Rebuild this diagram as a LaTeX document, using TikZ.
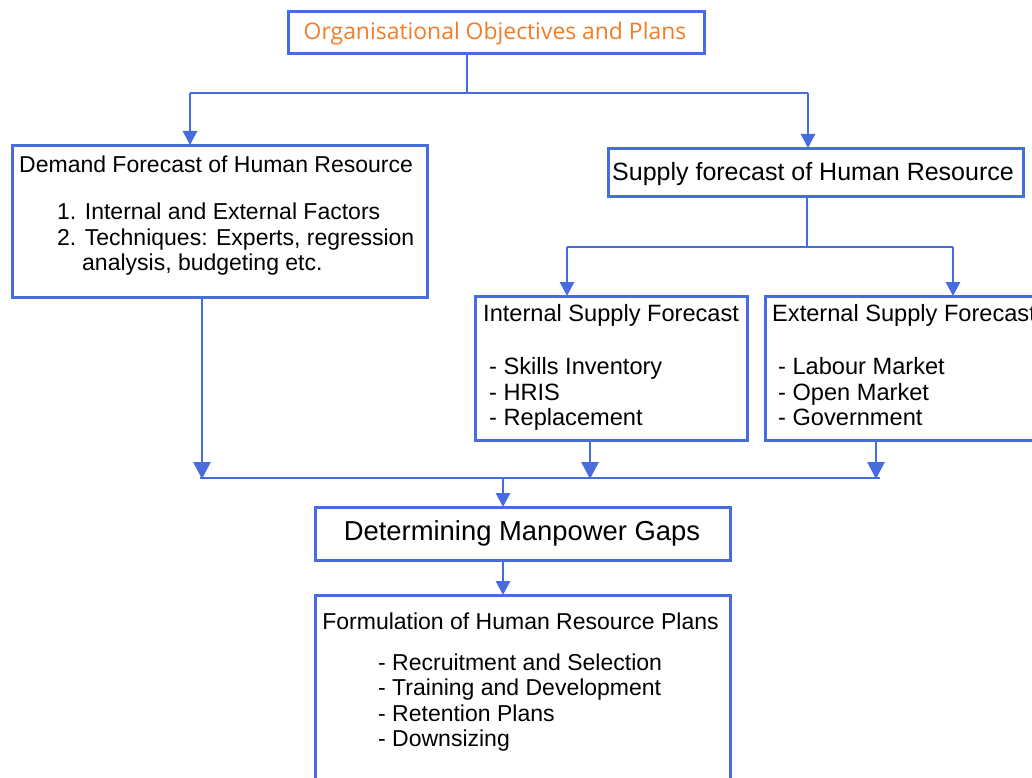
\documentclass[tikz,border=0pt]{standalone}
\usepackage{fontspec}
\setmainfont{Liberation Sans}
\newfontfamily\titlefont{Open Sans}
\usetikzlibrary{arrows.meta}
\definecolor{lineblue}{RGB}{70,108,222}
\definecolor{titleorange}{RGB}{240,125,40}
\tikzset{
  box/.style={draw=lineblue, line width=2.8pt, fill=white, inner sep=0pt, anchor=north west},
  conn/.style={draw=lineblue, line width=2.8pt},
  arr/.style={conn, -{Triangle[width=14pt,length=14pt]}, shorten >=-1pt},
  bigarr/.style={conn, -{Triangle[width=17pt,length=17pt]}, shorten >=-1pt},
  txt/.style={inner sep=0pt, anchor=mid west, yshift=-6pt, font=\fontsize{23}{26}\selectfont},
  subtxt/.style={txt, font=\fontsize{23.6}{26}\selectfont},
}
\begin{document}
\begin{tikzpicture}[x=1pt,y=-1pt]
\path[use as bounding box] (0,0) rectangle (1032,778);
\clip (0,0) rectangle (1032,778);
\fill[white] (0,0) rectangle (1032,778);

% boxes
\node[box, minimum width=416pt, minimum height=42pt] (top) at (287,10) {};
\node[box, minimum width=415pt, minimum height=152pt] (demand) at (11,144) {};
\node[box, minimum width=415pt, minimum height=48pt] (supply) at (607,147) {};
\node[box, minimum width=272pt, minimum height=144pt] (internal) at (474,295) {};
\node[box, minimum width=290pt, minimum height=144pt] (external) at (764,295) {};
\node[box, minimum width=415pt, minimum height=53pt] (gaps) at (314,506) {};
\node[box, minimum width=415pt, minimum height=200pt] (plans) at (314,594) {};

% texts
\node[inner sep=0pt, text=titleorange, yshift=-3pt, font=\titlefont\fontsize{22.9}{25}\selectfont] (toptxt) at (495,31) {Organisational Objectives and Plans};

\node[txt] (dtitle) at (19,164) {Demand Forecast of Human Resource};
\node[txt] (d1) at (57,211) {1. Internal and External Factors};
\node[txt] (d2) at (57,237) {2. Techniques: Experts, regression};
\node[txt] (d3) at (82,262) {analysis, budgeting etc.};

\node[txt, anchor=mid, font=\fontsize{25}{28}\selectfont] (stitle) at (813,172) {Supply forecast of Human Resource};

\node[subtxt] (ititle) at (483,313) {Internal Supply Forecast};
\node[subtxt] (i1) at (489,366) {- Skills Inventory};
\node[subtxt] (i2) at (489,392) {- HRIS};
\node[subtxt] (i3) at (489,417) {- Replacement};

\node[subtxt] (etitle) at (772,313) {External Supply Forecast};
\node[subtxt] (e1) at (778,366) {- Labour Market};
\node[subtxt] (e2) at (778,392) {- Open Market};
\node[subtxt] (e3) at (778,417) {- Government};

\node[txt, anchor=mid, font=\fontsize{27.4}{30}\selectfont] (gtitle) at (522,532) {Determining Manpower Gaps};

\node[txt, anchor=mid] (ptitle) at (520.5,621) {Formulation of Human Resource Plans};
\node[txt] (p1) at (378,662) {- Recruitment and Selection};
\node[txt] (p2) at (378,687) {- Training and Development};
\node[txt] (p3) at (378,713) {- Retention Plans};
\node[txt] (p4) at (378,738) {- Downsizing};

% junction points
\coordinate (jtop) at (467,93);
\coordinate (jtopl) at (190,93);
\coordinate (jtopr) at (808,93);
\coordinate (jsup) at (807,247);
\coordinate (jsupl) at (567,247);
\coordinate (jsupr) at (953,247);
\coordinate (jbotl) at (200,478);
\coordinate (jbotr) at (880,478);
\coordinate (jbot) at (503,478);
\coordinate (dcol) at (202,478);
\coordinate (icol) at (590,478);
\coordinate (ecol) at (876,478);

% connectors
\draw[conn] (top.south -| jtop) -- (jtop);
\draw[conn] (jtopl) -- (jtopr);
\draw[arr] (jtopl) -- (jtopl |- demand.north);
\draw[arr] (jtopr) -- (jtopr |- supply.north);

\draw[conn] (supply.south -| jsup) -- (jsup);
\draw[conn] (jsupl) -- (jsupr);
\draw[arr] (jsupl) -- (jsupl |- internal.north);
\draw[arr] (jsupr) -- (jsupr |- external.north);

\draw[bigarr] (demand.south -| dcol) -- (dcol);
\draw[bigarr] (internal.south -| icol) -- (icol);
\draw[bigarr] (external.south -| ecol) -- (ecol);
\draw[conn] (jbotl) -- (jbotr);
\draw[arr] (jbot) -- (jbot |- gaps.north);
\draw[arr] (gaps.south -| jbot) -- (jbot |- plans.north);
\end{tikzpicture}
\end{document}
